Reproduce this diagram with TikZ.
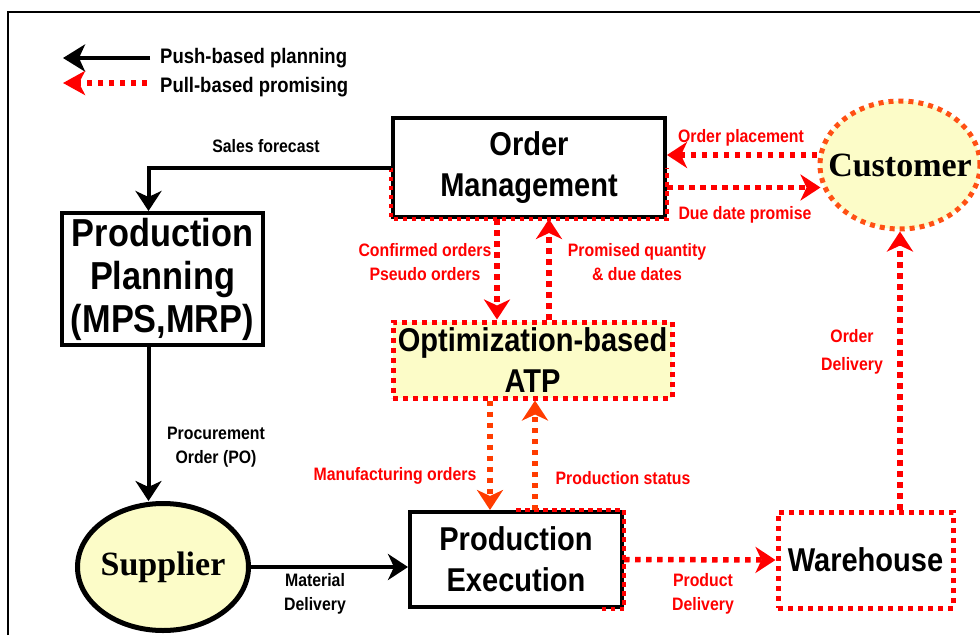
\documentclass[tikz,border=0pt]{standalone}
\usepackage{fontspec}
\setsansfont{Liberation Sans}[FakeStretch=0.88]
\newfontfamily\tmsfont{Liberation Serif}
\usepackage{tikz}
\usetikzlibrary{positioning}
\usetikzlibrary{shapes.geometric,arrows.meta}

\definecolor{pullred}{RGB}{255,0,0}
\definecolor{atporange}{RGB}{255,60,0}
\definecolor{custorange}{RGB}{255,80,20}
\definecolor{boxyellow}{RGB}{252,252,200}

\begin{document}
\begin{tikzpicture}[x=1pt,y=-1pt,font=\sffamily\bfseries,
    >={Stealth[length=20pt,width=26pt,inset=6pt]},
    blk/.style={draw=black,line width=4pt,inner sep=0pt,align=center,
        font=\fontsize{33}{41}\selectfont\sffamily\bfseries},
    dotbox/.style={draw=pullred,line width=5pt,dash pattern=on 5pt off 5pt,
        inner sep=0pt,align=center,font=\fontsize{33}{41}\selectfont\sffamily\bfseries},
    oval/.style={ellipse,inner sep=0pt,fill=boxyellow,
        font=\fontsize{34}{40}\selectfont\tmsfont\bfseries},
    push/.style={draw=black,line width=4pt},
    pull/.style={draw=pullred,line width=5.5pt,dash pattern=on 5.5pt off 5.5pt},
    redrim/.style={draw=pullred,line width=4.5pt,dash pattern=on 4.5pt off 4.5pt},
    lbl/.style={inner sep=0pt,align=center,font=\fontsize{18}{24}\selectfont\sffamily\bfseries},
    pulllbl/.style={lbl,text=pullred},
    legtxt/.style={inner sep=0pt,anchor=west,font=\fontsize{21}{22}\selectfont\sffamily\bfseries}]
    \useasboundingbox (0,0) rectangle (980,635);
    \draw[line width=2pt] (8,635) |- (980,12);

    % legend
    \coordinate (pushtip) at (63,58);
    \coordinate (pushend) at (150,58);
    \coordinate (pulltip) at (63,83);
    \coordinate (pullend) at (147,83);
    \node[legtxt] (pushtxt) at (160,58) {Push-based planning};
    \node[legtxt] (pulltxt) at (160,87) {Pull-based promising};
    \draw[push,->,>={Stealth[length=22pt,width=27pt,inset=6pt]}] (pushend) -- (pushtip);
    \draw[pull,->,>={Stealth[length=22pt,width=24pt,inset=6pt]}] (pullend) -- (pulltip);

    % nodes
    \node[blk,minimum width=272pt,minimum height=99pt] (OM) at (529,167.5) {Order\\Management};
    \node[blk,minimum width=201pt,minimum height=132pt,
        font=\fontsize{39}{43}\selectfont\sffamily\bfseries] (PP) at (162.5,279)
        {Production\\Planning\\(MPS,MRP)};
    \node[dotbox,fill=boxyellow,minimum width=279pt,minimum height=76pt] (ATP) at (532.5,360)
        {Optimization-based\\ATP};
    \node[blk,minimum width=212pt,minimum height=95pt] (PE) at (516,559.5) {Production\\Execution};
    \node[dotbox,minimum width=175pt,minimum height=96pt] (WH) at (865.5,560) {Warehouse};
    \node[oval,draw=custorange,line width=5pt,dash pattern=on 5pt off 5pt,
        minimum width=160pt,minimum height=128pt] (cust) at (900,165) {\makebox[0pt]{Customer}};
    \node[oval,draw=black,line width=5pt,
        minimum width=171pt,minimum height=127pt] (sup) at (163,567) {\makebox[0pt]{Supplier}};

    % red dotted rims over black boxes
    \draw[redrim] (OM.west) |- (OM.south) -| (OM.east);
    \draw[redrim] (PE.north) -| (PE.south east) -- ([xshift=-27pt]PE.south east);

    % push connectors
    \coordinate (pp) at ([xshift=-14pt]PP.south);
    \draw[push,->] (OM.west) -| (pp |- PP.north);
    \draw[push,->] (pp) -- (pp |- sup.north);
    \draw[push,->] (sup.east) -- (sup.east -| PE.west);

    % pull connectors
    \coordinate (op) at ([yshift=12.5pt]OM.east);
    \coordinate (dd) at ([yshift=-20pt]OM.east);
    \draw[pull,<-] (op) -- (op -| cust.west);
    \draw[pull,->] (dd) -- ([xshift=3pt]dd -| cust.west);
    \coordinate (co) at ([xshift=-32pt]OM.south);
    \coordinate (pq) at ([xshift=20pt]OM.south);
    \draw[pull,->] (co) -- (co |- ATP.north);
    \draw[pull,->] (pq |- ATP.north) -- (pq);
    \coordinate (mo) at ([xshift=-42.5pt]ATP.south);
    \coordinate (ps) at ([xshift=2.5pt]ATP.south);
    \draw[pull,->,draw=atporange] (mo) -- (mo |- PE.north);
    \draw[pull,->,draw=atporange] (ps |- PE.north) -- (ps);
    \draw[pull,->] (PE.east) -- (WH.west);
    \coordinate (od) at ([xshift=34.5pt]WH.north);
    \draw[pull,->] (od) -- (od |- cust.south);

    % labels
    \node[lbl] (sf) at (266,146) {Sales forecast};
    \node[lbl] (po) at (216,447) {Procurement\\Order (PO)};
    \node[lbl] (md) at (315,594) {Material\\Delivery};
    \node[pulllbl] (opl) at (741,138) {Order placement};
    \node[pulllbl] (ddl) at (745,215) {Due date promise};
    \node[pulllbl] (col) at (425,262) {Confirmed orders\\Pseudo orders};
    \node[pulllbl] (pql) at (637,262) {Promised quantity\\\& due dates};
    \node[pulllbl] (mol) at (395,476) {Manufacturing orders};
    \node[pulllbl] (psl) at (623,478) {Production status};
    \node[pulllbl] (pdl) at (703,594) {Product\\Delivery};
    \node[pulllbl] (odl) at (852,352) {Order\\[4pt]Delivery};
\end{tikzpicture}
\end{document}
